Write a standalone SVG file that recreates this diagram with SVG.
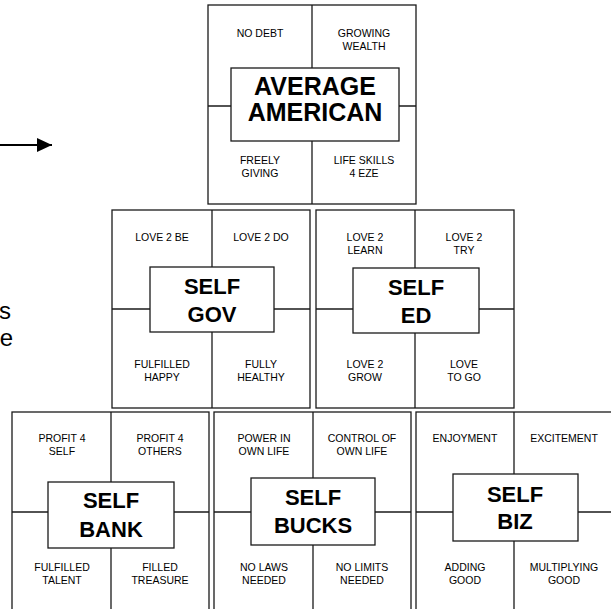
<svg xmlns="http://www.w3.org/2000/svg" width="611" height="609" viewBox="0 0 611 609">
<style>
.blk{fill:#fff;stroke:#1a1a1a;stroke-width:1.3}
.ln{stroke:#1a1a1a;stroke-width:1.3;fill:none}
.box{fill:#fff;stroke:#1a1a1a;stroke-width:1.3}
.sm{font-family:"Liberation Sans",Arial,sans-serif;font-size:10.5px;fill:#000;text-anchor:middle}
.bg{font-family:"Liberation Sans",Arial,sans-serif;font-size:22px;font-weight:bold;fill:#000;text-anchor:middle}
.side{font-family:"Liberation Sans",Arial,sans-serif;font-size:24px;fill:#000;text-anchor:end}
</style>
<defs>
<marker id="ah" markerWidth="16" markerHeight="14" refX="15" refY="7" orient="auto" markerUnits="userSpaceOnUse">
<path d="M0,0 L15,7 L0,14 Z" fill="#000"/>
</marker>
</defs>
<rect width="611" height="609" fill="#fff"/>
<g id="connectors">
<line x1="0" y1="145" x2="52" y2="145" stroke="#000" stroke-width="2" marker-end="url(#ah)"/>
</g>
<g id="side-text">
<text class="side" x="11" y="319">s</text>
<text class="side" x="13" y="346">e</text>
</g>
<g id="average-american">
<rect class="blk" x="208" y="5" width="208" height="199"/>
<line class="ln" x1="312" y1="5" x2="312" y2="204"/>
<line class="ln" x1="208" y1="106" x2="416" y2="106"/>
<rect class="box" x="231" y="68" width="168" height="73"/>
<text class="sm" x="260" y="37">NO DEBT</text>
<text class="sm" x="364" y="37">GROWING</text>
<text class="sm" x="364" y="50">WEALTH</text>
<text class="sm" x="260" y="164">FREELY</text>
<text class="sm" x="260" y="177">GIVING</text>
<text class="sm" x="364" y="164">LIFE SKILLS</text>
<text class="sm" x="364" y="177">4 EZE</text>
<text class="bg" x="315" y="95" style="font-size:25px">AVERAGE</text>
<text class="bg" x="315" y="121" style="font-size:25px">AMERICAN</text>
</g>
<g id="self-gov">
<rect class="blk" x="112" y="210" width="198" height="198"/>
<line class="ln" x1="212" y1="210" x2="212" y2="408"/>
<line class="ln" x1="112" y1="309" x2="310" y2="309"/>
<rect class="box" x="150" y="267" width="124" height="65"/>
<text class="sm" x="162" y="241">LOVE 2 BE</text>
<text class="sm" x="261" y="241">LOVE 2 DO</text>
<text class="sm" x="162" y="368">FULFILLED</text>
<text class="sm" x="162" y="381">HAPPY</text>
<text class="sm" x="261" y="368">FULLY</text>
<text class="sm" x="261" y="381">HEALTHY</text>
<text class="bg" x="212" y="294">SELF</text>
<text class="bg" x="212" y="322">GOV</text>
</g>
<g id="self-ed">
<rect class="blk" x="316" y="210" width="198" height="198"/>
<line class="ln" x1="415" y1="210" x2="415" y2="408"/>
<line class="ln" x1="316" y1="309" x2="514" y2="309"/>
<rect class="box" x="353" y="268" width="126" height="65"/>
<text class="sm" x="365" y="241">LOVE 2</text>
<text class="sm" x="365" y="254">LEARN</text>
<text class="sm" x="464" y="241">LOVE 2</text>
<text class="sm" x="464" y="254">TRY</text>
<text class="sm" x="365" y="368">LOVE 2</text>
<text class="sm" x="365" y="381">GROW</text>
<text class="sm" x="464" y="368">LOVE</text>
<text class="sm" x="464" y="381">TO GO</text>
<text class="bg" x="416" y="295">SELF</text>
<text class="bg" x="416" y="323">ED</text>
</g>
<g id="self-bank">
<rect class="blk" x="12" y="412" width="197" height="202"/>
<line class="ln" x1="111" y1="412" x2="111" y2="614"/>
<line class="ln" x1="12" y1="512" x2="209" y2="512"/>
<rect class="box" x="48" y="482" width="126" height="66"/>
<text class="sm" x="62" y="442">PROFIT 4</text>
<text class="sm" x="62" y="455">SELF</text>
<text class="sm" x="160" y="442">PROFIT 4</text>
<text class="sm" x="160" y="455">OTHERS</text>
<text class="sm" x="62" y="571">FULFILLED</text>
<text class="sm" x="62" y="584">TALENT</text>
<text class="sm" x="160" y="571">FILLED</text>
<text class="sm" x="160" y="584">TREASURE</text>
<text class="bg" x="111" y="508">SELF</text>
<text class="bg" x="111" y="537">BANK</text>
</g>
<g id="self-bucks">
<rect class="blk" x="214" y="412" width="197" height="202"/>
<line class="ln" x1="313" y1="412" x2="313" y2="614"/>
<line class="ln" x1="214" y1="512" x2="411" y2="512"/>
<rect class="box" x="251" y="478" width="124" height="67"/>
<text class="sm" x="264" y="442">POWER IN</text>
<text class="sm" x="264" y="455">OWN LIFE</text>
<text class="sm" x="362" y="442">CONTROL OF</text>
<text class="sm" x="362" y="455">OWN LIFE</text>
<text class="sm" x="264" y="571">NO LAWS</text>
<text class="sm" x="264" y="584">NEEDED</text>
<text class="sm" x="362" y="571">NO LIMITS</text>
<text class="sm" x="362" y="584">NEEDED</text>
<text class="bg" x="313" y="505">SELF</text>
<text class="bg" x="313" y="533">BUCKS</text>
</g>
<g id="self-biz">
<rect class="blk" x="416" y="412" width="200" height="202"/>
<line class="ln" x1="514" y1="412" x2="514" y2="614"/>
<line class="ln" x1="416" y1="512" x2="616" y2="512"/>
<rect class="box" x="453" y="474" width="125" height="67"/>
<text class="sm" x="465" y="442">ENJOYMENT</text>
<text class="sm" x="564" y="442">EXCITEMENT</text>
<text class="sm" x="465" y="571">ADDING</text>
<text class="sm" x="465" y="584">GOOD</text>
<text class="sm" x="564" y="571">MULTIPLYING</text>
<text class="sm" x="564" y="584">GOOD</text>
<text class="bg" x="515" y="502">SELF</text>
<text class="bg" x="515" y="529">BIZ</text>
</g>
</svg>
